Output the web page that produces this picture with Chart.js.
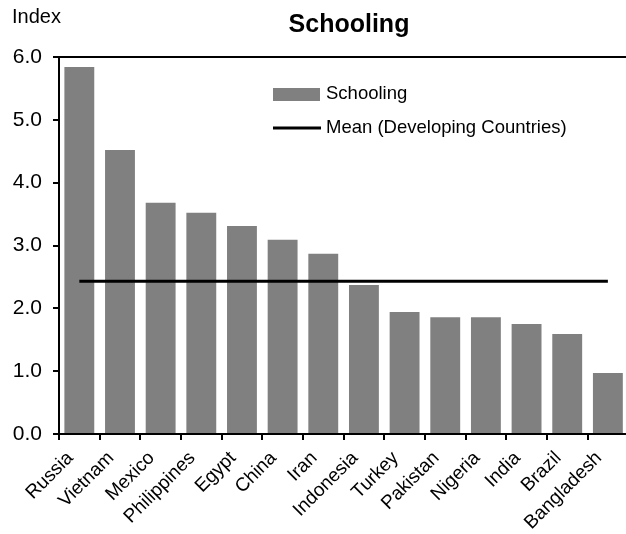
<!DOCTYPE html>
<html>
<head>
<meta charset="utf-8">
<script src="https://cdn.jsdelivr.net/npm/chart.js@4/dist/chart.umd.min.js"></script>
<style>
html,body{margin:0;padding:0;background:#fff;overflow:hidden;}
#wrap{width:626px;height:534px;position:relative;overflow:hidden;}
</style>
</head>
<body>
<div id="wrap"><canvas id="c" width="631" height="534"></canvas></div>
<script>
const categories = ['Russia','Vietnam','Mexico','Philippines','Egypt','China','Iran','Indonesia','Turkey','Pakistan','Nigeria','India','Brazil','Bangladesh'];
const schooling = [5.84,4.52,3.68,3.52,3.31,3.09,2.87,2.37,1.94,1.86,1.86,1.75,1.59,0.97];
const meanDeveloping = [2.43,2.43,2.43,2.43,2.43,2.43,2.43,2.43,2.43,2.43,2.43,2.43,2.43,2.43];
const yTickLabels = ['0.0','1.0','2.0','3.0','4.0','5.0','6.0'];
const chartTitle = 'Schooling';
const yAxisLabel = 'Index';

const FONT = '"Liberation Sans", Arial, sans-serif';

const decorPlugin = {
  id: 'decor',
  afterDraw(chart) {
    const ctx = chart.ctx;
    const a = chart.chartArea;
    ctx.save();
    // top border
    ctx.strokeStyle = '#000';
    ctx.lineWidth = 2;
    ctx.beginPath();
    ctx.moveTo(a.left, a.top);
    ctx.lineTo(a.right, a.top);
    ctx.stroke();
    // title
    ctx.fillStyle = '#000';
    ctx.font = 'bold 25px ' + FONT;
    ctx.textAlign = 'center';
    ctx.textBaseline = 'middle';
    ctx.fillText(chartTitle, 349, 25);
    // axis label
    ctx.font = '20px ' + FONT;
    ctx.textAlign = 'left';
    ctx.fillText(yAxisLabel, 12, 17);
    // legend
    const ds = chart.data.datasets;
    ctx.font = '18.5px ' + FONT;
    ctx.fillStyle = ds[0].backgroundColor;
    ctx.fillRect(273, 88, 47, 13);
    ctx.strokeStyle = '#000';
    ctx.lineWidth = 3;
    ctx.beginPath();
    ctx.moveTo(273, 128);
    ctx.lineTo(321, 128);
    ctx.stroke();
    ctx.fillStyle = '#000';
    ctx.textBaseline = 'middle';
    ctx.fillText(ds[0].label, 326, 94);
    ctx.fillText(ds[1].label, 326, 128);
    ctx.restore();
  }
};

new Chart(document.getElementById('c'), {
  type: 'bar',
  data: {
    labels: categories,
    datasets: [
      {
        type: 'bar',
        label: 'Schooling',
        data: schooling,
        backgroundColor: '#808080',
        borderWidth: 0,
        barPercentage: 0.735,
        categoryPercentage: 1.0,
        order: 1
      },
      {
        type: 'line',
        label: 'Mean (Developing Countries)',
        data: meanDeveloping,
        borderColor: '#000',
        borderWidth: 3,
        pointRadius: 0,
        fill: false,
        order: 0
      }
    ]
  },
  options: {
    responsive: false,
    animation: false,
    devicePixelRatio: 1,
    layout: { padding: { top: 57, right: 0, left: 0, bottom: 0 } },
    plugins: {
      legend: { display: false },
      title: { display: false },
      tooltip: { enabled: false }
    },
    scales: {
      x: {
        grid: { display: true, drawOnChartArea: false, drawTicks: true, tickLength: 6, color: '#000', lineWidth: 2, offset: true },
        border: { display: true, color: '#000', width: 2 },
        ticks: {
          color: '#000',
          font: { family: FONT, size: 19 },
          minRotation: 45,
          maxRotation: 45,
          autoSkip: false,
          padding: 7,
          labelOffset: -9
        },
        afterFit(scale) { scale.height = 100; }
      },
      y: {
        min: 0,
        max: 6,
        grid: { display: true, drawOnChartArea: false, drawTicks: true, tickLength: 6, color: '#000', lineWidth: 2 },
        border: { display: true, color: '#000', width: 2 },
        ticks: {
          stepSize: 1,
          color: '#000',
          font: { family: FONT, size: 21 },
          padding: 11,
          callback: (v) => yTickLabels[Math.round(v)]
        },
        afterFit(scale) { scale.width = 59; }
      }
    }
  },
  plugins: [decorPlugin]
});
</script>
</body>
</html>
